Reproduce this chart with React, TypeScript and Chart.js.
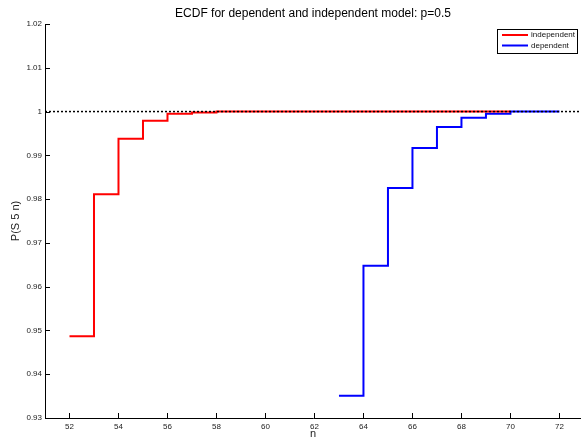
import { useEffect, useRef } from 'react';
import { Chart, registerables } from 'chart.js';

Chart.register(...registerables);

const titleText = 'ECDF for dependent and independent model: p=0.5';
const xLabel = 'n';
const yLabel = 'P(S 5 n)';

const nIndependent = [52, 53, 54, 55, 56, 57, 58, 59, 60, 61, 62, 63, 64, 65, 66, 67, 68, 69, 70];
const pIndependent = [0.94866, 0.98109, 0.9938, 0.99791, 0.99952, 0.99978, 1, 1, 1, 1, 1, 1, 1, 1, 1, 1, 1, 1, 1];

const nDependent = [63, 64, 65, 66, 67, 68, 69, 70, 71, 72];
const pDependent = [0.93509, 0.96479, 0.98254, 0.99167, 0.99647, 0.9986, 0.99952, 1, 1, 1];

const refX = [51, 72.88];
const refY = [1, 1];

const xTicks = [52, 54, 56, 58, 60, 62, 64, 66, 68, 70, 72];
const yTicks = [0.93, 0.94, 0.95, 0.96, 0.97, 0.98, 0.99, 1, 1.01, 1.02];

const FONT = '"Liberation Sans", Arial, Helvetica, sans-serif';

const decorPlugin = {
  id: 'decor',
  afterDatasetsDraw(chart: any) {
    const ctx = chart.ctx as CanvasRenderingContext2D;
    const area = chart.chartArea;
    const xs = chart.scales.x;
    const ys = chart.scales.y;
    ctx.save();
    // inward ticks
    ctx.strokeStyle = '#000';
    ctx.lineWidth = 1;
    ctx.beginPath();
    xTicks.forEach((v) => {
      const px = Math.round(xs.getPixelForValue(v)) + 0.5;
      ctx.moveTo(px, area.bottom);
      ctx.lineTo(px, area.bottom - 5);
    });
    yTicks.forEach((v) => {
      const py = Math.round(ys.getPixelForValue(v)) + 0.5;
      ctx.moveTo(area.left, py);
      ctx.lineTo(area.left + 5, py);
    });
    ctx.stroke();

    // title
    const cx = (area.left + area.right) / 2;
    ctx.fillStyle = '#000';
    ctx.font = `12px ${FONT}`;
    ctx.textAlign = 'center';
    ctx.textBaseline = 'middle';
    ctx.fillText(titleText, cx, 13.5);

    // x label
    ctx.font = `11px ${FONT}`;
    ctx.fillStyle = '#222';
    ctx.fillText(xLabel, cx, 433.5);

    // y label
    ctx.save();
    ctx.translate(16, (area.top + area.bottom) / 2);
    ctx.rotate(-Math.PI / 2);
    ctx.fillText(yLabel, 0, 0);
    ctx.restore();

    // legend
    const lx = 497.5, ly = 29.5, lw = 80, lh = 24;
    ctx.fillStyle = '#fff';
    ctx.fillRect(lx, ly, lw, lh);
    ctx.strokeStyle = '#000';
    ctx.lineWidth = 1;
    ctx.strokeRect(lx, ly, lw, lh);
    const items = chart.data.datasets.slice(1);
    items.forEach((ds: any, i: number) => {
      const y = 35 + i * 10.5;
      ctx.strokeStyle = ds.borderColor;
      ctx.lineWidth = 2;
      ctx.beginPath();
      ctx.moveTo(502, y);
      ctx.lineTo(528, y);
      ctx.stroke();
      ctx.fillStyle = '#111';
      ctx.font = `8px ${FONT}`;
      ctx.textAlign = 'left';
      ctx.textBaseline = 'middle';
      ctx.fillText(ds.label, 531, y);
    });
    ctx.restore();
  },
};

export default function App() {
  const ref = useRef<HTMLCanvasElement | null>(null);
  useEffect(() => {
    if (!ref.current) return;
    const chart = new Chart(ref.current, {
      type: 'line',
      data: {
        datasets: [
          {
            label: 'reference',
            data: refX.map((x, i) => ({ x, y: refY[i] })),
            borderColor: '#000',
            borderWidth: 1.5,
            borderDash: [2, 2],
            pointRadius: 0,
            fill: false,
          },
          {
            label: 'independent',
            data: nIndependent.map((x, i) => ({ x, y: pIndependent[i] })),
            borderColor: '#ff0000',
            borderWidth: 2,
            stepped: 'before',
            pointRadius: 0,
            fill: false,
          },
          {
            label: 'dependent',
            data: nDependent.map((x, i) => ({ x, y: pDependent[i] })),
            borderColor: '#0000ff',
            borderWidth: 2,
            stepped: 'before',
            pointRadius: 0,
            fill: false,
          },
        ],
      },
      options: {
        responsive: false,
        animation: false,
        layout: { padding: { top: 24, left: 0, right: 0, bottom: 0 } },
        plugins: {
          legend: { display: false },
          title: { display: false },
          tooltip: { enabled: false },
        },
        scales: {
          x: {
            type: 'linear',
            min: 51,
            max: 72.88,
            afterBuildTicks: (s: any) => {
              s.ticks = xTicks.map((v) => ({ value: v }));
            },
            afterFit: (s: any) => {
              s.height = 21;
            },
            grid: { display: true, drawOnChartArea: false, drawTicks: false, tickLength: 0 },
            border: { display: true, color: '#000', width: 1 },
            ticks: {
              padding: 4,
              autoSkip: false,
              maxRotation: 0,
              color: '#222',
              font: { family: FONT, size: 8 },
              callback: (v: any) => String(v),
            },
          },
          y: {
            type: 'linear',
            min: 0.93,
            max: 1.02,
            afterBuildTicks: (s: any) => {
              s.ticks = yTicks.map((v) => ({ value: v }));
            },
            afterFit: (s: any) => {
              s.width = 45;
            },
            grid: { display: true, drawOnChartArea: false, drawTicks: false, tickLength: 0 },
            border: { display: true, color: '#000', width: 1 },
            ticks: {
              padding: 3,
              autoSkip: false,
              color: '#222',
              font: { family: FONT, size: 8 },
              callback: (v: any) => String(Number(Number(v).toFixed(2))),
            },
          },
        },
      },
      plugins: [decorPlugin],
    });
    return () => chart.destroy();
  }, []);
  return (
    <div style={{ position: 'absolute', left: 0, top: 0, width: 581, height: 439, background: '#fff' }}>
      <canvas ref={ref} width={581} height={439} style={{ display: 'block', width: 581, height: 439 }} />
    </div>
  );
}
